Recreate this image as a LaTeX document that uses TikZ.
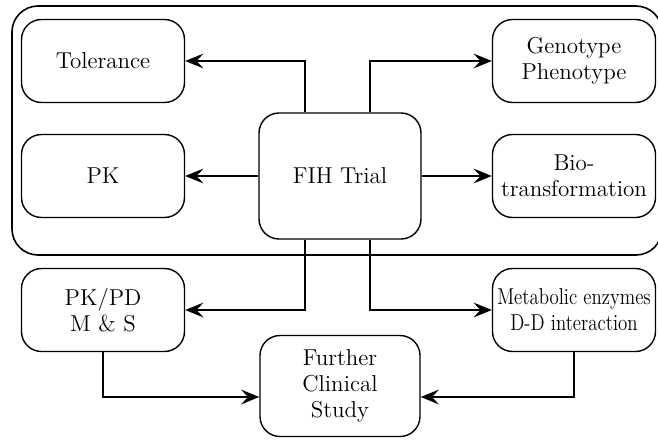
\documentclass[tikz,border=0pt]{standalone}
\usepackage{graphicx}
\usepackage{tikz}
\usetikzlibrary{arrows.meta,positioning,calc}
\tikzset{
  box/.style={rectangle, draw, rounded corners=10pt, line width=0.7pt,
              minimum height=41.5pt, minimum width=81.5pt, align=center,
              font=\fontsize{11.5}{13}\selectfont},
  bigbox/.style={box, minimum width=81pt, minimum height=63pt},
  frame/.style={draw, rounded corners=13pt, line width=0.8pt},
  arr/.style={-{Stealth[length=3.2mm, width=2.6mm, inset=1.2mm]}, line width=0.7pt}
}
\newcommand{\narrow}[1]{\scalebox{0.82}[1]{#1}}
\begin{document}
\begin{tikzpicture}[x=0.5pt,y=-0.5pt]
  \useasboundingbox (0,0) rectangle (658,439);
  % outer frame round the FIH block
  \draw[frame] (12,6) rectangle (662,255);

  \node[bigbox] (fih) at (340,176) {FIH Trial};
  \node[box] (tol) at (103,61) {Tolerance};
  \node[box] (pk) at (103,176) {PK};
  \node[box] (geno) at (574,61) {Genotype\\Phenotype};
  \node[box] (bio) at (574,176) {Bio-\\transformation};
  \node[box] (pkpd) at (103,310) {PK/PD\\M \& S};
  \node[box, inner sep=1pt] (meta) at (574,310) {\narrow{Metabolic enzymes}\\\narrow{D-D interaction}};
  \node[box, minimum width=80pt, minimum height=50.5pt] (further) at (340,386) {Further\\Clinical\\Study};

  \draw[arr] ([xshift=-17.5pt]fih.north) |- (tol.east);
  \draw[arr] ([xshift=15pt]fih.north) |- (geno.west);
  \draw[arr] (fih) -- (pk);
  \draw[arr] (fih) -- (bio);
  \draw[arr] ([xshift=-17.5pt]fih.south) |- (pkpd.east);
  \draw[arr] ([xshift=15pt]fih.south) |- (meta.west);
  \draw[arr] (pkpd.south) |- ([yshift=-5.5pt]further.west);
  \draw[arr] (meta.south) |- ([yshift=-5.5pt]further.east);
\end{tikzpicture}
\end{document}
